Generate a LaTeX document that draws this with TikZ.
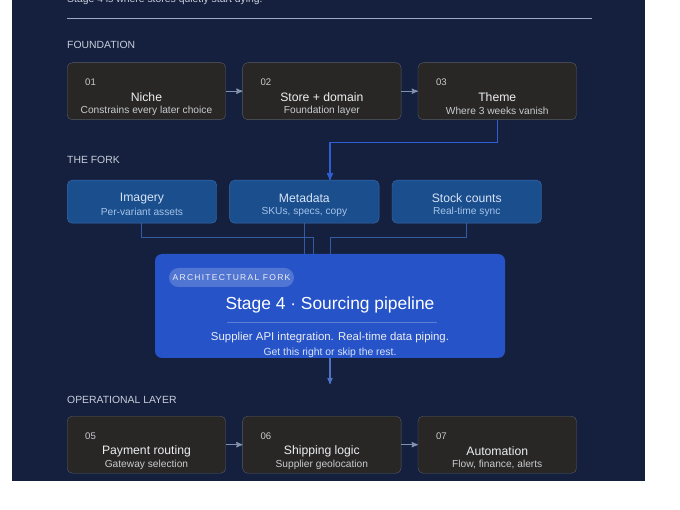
\documentclass[tikz,border=0pt]{standalone}
\usepackage{fontspec}
\setmainfont{Liberation Sans}
\usetikzlibrary{positioning, arrows}
\definecolor{panelbg}{RGB}{20,32,62}
\definecolor{cardbg}{RGB}{40,39,37}
\definecolor{cardedge}{RGB}{88,92,100}
\definecolor{forkbg}{RGB}{26,78,140}
\definecolor{forkedge}{RGB}{58,110,180}
\definecolor{stagebg}{RGB}{38,83,200}
\definecolor{flowblue}{RGB}{45,95,210}
\definecolor{wireblue}{RGB}{52,92,165}
\definecolor{arrowgray}{RGB}{130,146,172}
\definecolor{labeltext}{RGB}{200,206,218}
\definecolor{maintext}{RGB}{236,238,242}
\definecolor{subtext}{RGB}{200,203,208}
\definecolor{forktext}{RGB}{215,228,248}
\definecolor{forksubtext}{RGB}{165,195,235}
\definecolor{ruleline}{RGB}{160,170,195}
\tikzset{
x=1pt, y=1pt, % one unit is one pixel of the screenshot
>=stealth', % small bold arrow heads
node distance=16.5pt, % gap between two cards of a row
card/.style={draw=cardedge, fill=cardbg, rounded corners=5pt, minimum width=158.5pt, minimum height=57pt, inner sep=0pt, anchor=north west}, % dark step card
forkcard/.style={draw=forkedge, fill=forkbg, rounded corners=5pt, minimum width=149.5pt, minimum height=43pt, inner sep=0pt, anchor=north west}, % blue fork card
stagebox/.style={fill=stagebg, rounded corners=7pt, minimum width=350pt, minimum height=104pt, inner sep=0pt}, % the big stage card
pill/.style={fill=white, fill opacity=0.2, text opacity=1, rounded corners=9.5pt, minimum width=125pt, minimum height=19pt, inner sep=0pt, text=maintext, font=\fontsize{8.5}{10}\selectfont\addfontfeature{LetterSpace=15}},
section/.style={anchor=west, inner sep=0pt, text=labeltext, font=\fontsize{10.4}{12}\selectfont},
cardnum/.style={anchor=west, inner sep=0pt, text=subtext, font=\fontsize{9.6}{11}\selectfont},
cardtitle/.style={inner sep=0pt, text=maintext, font=\fontsize{12.2}{14}\selectfont},
cardsub/.style={inner sep=0pt, text=subtext, font=\fontsize{10.2}{12}\selectfont},
forktitle/.style={inner sep=0pt, text=forktext, font=\fontsize{12.2}{14}\selectfont},
forksub/.style={inner sep=0pt, text=forksubtext, font=\fontsize{10.2}{12}\selectfont},
steparrow/.style={->, draw=arrowgray, line width=1.2pt},
mainflow/.style={->, draw=flowblue, line width=1.5pt},
forkwire/.style={draw=wireblue, line width=1pt},
}

\begin{document}
\begin{tikzpicture}
    \useasboundingbox (0,0) rectangle (680,-510);
    \fill[panelbg] (12,0) rectangle (645,-481);
    \node[anchor=base west, inner sep=0pt, text=labeltext, font=\fontsize{10.4}{12}\selectfont] (caption) at (67,-3) {Stage 4 is where stores quietly start dying.};
    \draw[ruleline, line width=1pt] (67,-19) -- (592,-19);

    % foundation
    \node[section] (lfound) at (67,-45) {FOUNDATION};
    \node[card] (niche) at (67,-62.5) {};
    \node[card, right=of niche] (store) {};
    \node[card, right=of store] (theme) {};
    \node[cardnum] at ([xshift=18pt, yshift=-20pt]niche.north west) {01};
    \node[cardtitle] at ([yshift=-35pt]niche.north) {Niche};
    \node[cardsub] at ([yshift=-48.5pt]niche.north) {Constrains every later choice};
    \node[cardnum] at ([xshift=18pt, yshift=-20pt]store.north west) {02};
    \node[cardtitle] at ([yshift=-35pt]store.north) {Store + domain};
    \node[cardsub] at ([yshift=-48.5pt]store.north) {Foundation layer};
    \node[cardnum] at ([xshift=18pt, yshift=-20pt]theme.north west) {03};
    \node[cardtitle] at ([yshift=-35pt]theme.north) {Theme};
    \node[cardsub] at ([yshift=-48.5pt]theme.north) {Where 3 weeks vanish};
    \draw[steparrow] (niche) -- (store);
    \draw[steparrow] (store) -- (theme);

    % the fork
    \node[section] (lfork) at (67,-160) {THE FORK};
    \node[forkcard] (imagery) at (67,-180) {};
    \node[forkcard, right=12.5pt of imagery] (metadata) {};
    \node[forkcard, right=12.5pt of metadata] (stock) {};
    \node[forktitle] at ([yshift=-18.3pt]imagery.north) {Imagery};
    \node[forksub] at ([yshift=-31.7pt]imagery.north) {Per-variant assets};
    \node[forktitle] at ([yshift=-18.3pt]metadata.north) {Metadata};
    \node[forksub] at ([yshift=-31.7pt]metadata.north) {SKUs, specs, copy};
    \node[forktitle] at ([yshift=-18.3pt]stock.north) {Stock counts};
    \node[forksub] at ([yshift=-31.7pt]stock.north) {Real-time sync};

    % stage 4
    \node[stagebox] (sourcing) at (330,-306) {};
    \node[pill] (pilltag) at (231.5,-277.5) {ARCHITECTURAL FORK};
    \node[inner sep=0pt, text=white, font=\fontsize{17.4}{20}\selectfont] (stitle) at (330,-305) {Stage 4 · Sourcing pipeline};
    \draw[white, opacity=0.25, line width=0.6pt] (227,-322) -- (437,-322);
    \node[inner sep=0pt, text=maintext, font=\fontsize{11.4}{13}\selectfont] (ssub) at (330,-338) {Supplier API integration. Real-time data piping.};
    \node[inner sep=0pt, text=forktext, font=\fontsize{10.4}{12}\selectfont] (snote) at (330,-352.5) {Get this right or skip the rest.};

    \draw[mainflow] (theme.south) -- ++(0,-22.5) -| (metadata.north -| sourcing.north);
    \draw[forkwire] (imagery.south) -- ++(0,-14) -| ([xshift=-17pt]sourcing.north);
    \draw[forkwire] (metadata.south) -- (metadata.south |- sourcing.north);
    \draw[forkwire] (stock.south) -- ++(0,-14) -| (sourcing.north);
    \coordinate (opsin) at (330,-384);
    \draw[->, draw=flowblue!60!arrowgray, line width=1.2pt] (sourcing.south) -- (opsin);

    % operational layer
    \node[section] (lops) at (67,-399.5) {OPERATIONAL LAYER};
    \node[card] (payment) at (67,-416) {};
    \node[card, right=of payment] (shipping) {};
    \node[card, right=of shipping] (automation) {};
    \node[cardnum] at ([xshift=18pt, yshift=-20pt]payment.north west) {05};
    \node[cardtitle] at ([yshift=-35pt]payment.north) {Payment routing};
    \node[cardsub] at ([yshift=-48.5pt]payment.north) {Gateway selection};
    \node[cardnum] at ([xshift=18pt, yshift=-20pt]shipping.north west) {06};
    \node[cardtitle] at ([yshift=-35pt]shipping.north) {Shipping logic};
    \node[cardsub] at ([yshift=-48.5pt]shipping.north) {Supplier geolocation};
    \node[cardnum] at ([xshift=18pt, yshift=-20pt]automation.north west) {07};
    \node[cardtitle] at ([yshift=-35pt]automation.north) {Automation};
    \node[cardsub] at ([yshift=-48.5pt]automation.north) {Flow, finance, alerts};
    \draw[steparrow] (payment) -- (shipping);
    \draw[steparrow] (shipping) -- (automation);
\end{tikzpicture}
\end{document}
